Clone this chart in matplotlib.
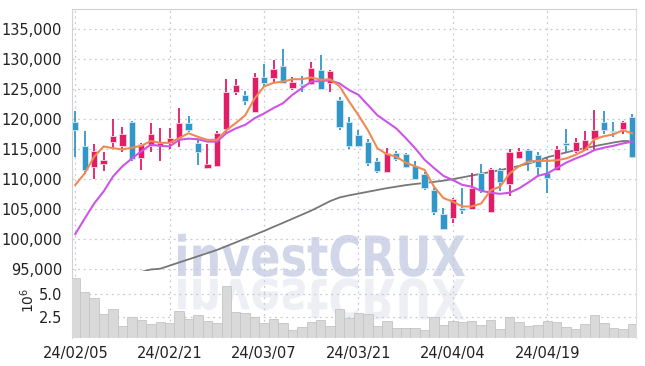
import matplotlib.pyplot as plt
from matplotlib.textpath import TextPath
from matplotlib.patches import PathPatch
from matplotlib.font_manager import FontProperties
from matplotlib.transforms import Affine2D, IdentityTransform
from matplotlib.ticker import FuncFormatter

# trading days shown (yy/mm/dd)
dates = ["24/02/05", "24/02/06", "24/02/07", "24/02/08", "24/02/13", "24/02/14", "24/02/15", "24/02/16",
         "24/02/19", "24/02/20", "24/02/21", "24/02/22", "24/02/23", "24/02/26", "24/02/27", "24/02/28",
         "24/02/29", "24/03/04", "24/03/05", "24/03/06", "24/03/07", "24/03/08", "24/03/11", "24/03/12",
         "24/03/13", "24/03/14", "24/03/15", "24/03/18", "24/03/19", "24/03/20", "24/03/21", "24/03/22",
         "24/03/25", "24/03/26", "24/03/27", "24/03/28", "24/03/29", "24/04/01", "24/04/02", "24/04/03",
         "24/04/04", "24/04/05", "24/04/08", "24/04/09", "24/04/11", "24/04/12", "24/04/15", "24/04/16",
         "24/04/17", "24/04/18", "24/04/19", "24/04/22", "24/04/23", "24/04/24", "24/04/25", "24/04/26",
         "24/04/29", "24/04/30", "24/05/02", "24/05/03"]
tick_dates = ["24/02/05", "24/02/21", "24/03/07", "24/03/21", "24/04/04", "24/04/19"]

opens = [119600, 115600, 112000, 112600, 116300, 115500, 119500, 113500, 115500, 115500,
         116100, 116900, 119400, 116000, 111900, 112300, 118400, 124500, 124100, 121300,
         127000, 126900, 128900, 125200, 125900, 125900, 128300, 126100, 123300, 119500,
         117400, 116300, 113100, 111200, 114400, 114300, 112300, 110900, 108300, 104300,
         103500, 105200, 105000, 111100, 104500, 111600, 109200, 113500, 114900, 114000,
         111100, 111600, 116000, 114800, 114900, 116700, 119600, 118100, 118400, 120400]
closes = [118300, 111500, 114800, 113300, 117300, 117500, 113400, 115900, 117500, 116000,
          116900, 119400, 118300, 114500, 112500, 117700, 124500, 125800, 123000, 127000,
          126100, 128400, 126100, 126200, 125800, 128500, 125000, 128100, 118800, 115600,
          115600, 112800, 111400, 114400, 113400, 112000, 110100, 108600, 104600, 101700,
          106700, 104900, 108600, 108000, 111800, 109600, 114600, 114800, 112900, 112100,
          110300, 115000, 115800, 116300, 116600, 118300, 118300, 118000, 119600, 113800]
highs = [121400, 118100, 115900, 114600, 120000, 118800, 119800, 116000, 119400, 118600,
         118500, 121900, 120600, 116600, 115900, 118000, 126800, 126800, 124800, 127800,
         129200, 129900, 131700, 127000, 127300, 129600, 130800, 128200, 123700, 120400,
         118300, 116800, 113500, 115300, 114800, 114400, 113100, 111300, 108500, 105200,
         106900, 108500, 111100, 112600, 111900, 111900, 115000, 115200, 115000, 114500,
         113600, 115500, 118400, 116900, 118000, 121500, 121400, 119500, 119700, 120900]
lows = [113700, 110900, 110000, 111400, 115000, 114600, 113000, 111600, 114600, 113000,
        115000, 115400, 117900, 112400, 111800, 112000, 117700, 124000, 122400, 121200,
        125600, 126300, 126000, 124900, 124500, 125700, 125000, 124600, 118200, 115000,
        115400, 112200, 111000, 111200, 113100, 111900, 110000, 108200, 104100, 101600,
        102700, 104200, 105000, 107700, 104400, 108000, 107200, 113400, 111400, 110700,
        107700, 111500, 114600, 114400, 114700, 114700, 117500, 117100, 117600, 113500]
ma_short = [109100, 111000, 113800, 115500, 115200, 115000, 115300, 115600, 116400, 116100,
            116100, 116900, 117700, 117100, 116600, 116600, 118200, 119400, 120700, 123500,
            125500, 126100, 126300, 126700, 126700, 127000, 126600, 126700, 125500, 123000,
            120700, 118200, 115200, 114200, 113800, 112800, 112200, 111600, 108800, 106900,
            106300, 105500, 105500, 106000, 108200, 108800, 111000, 112200, 113000, 113100,
            113100, 113200, 113500, 114100, 114900, 116700, 117200, 117500, 118200, 117700]
ma_mid = [100900, 103500, 106000, 108000, 110500, 112200, 113500, 114700, 115800, 115600,
          115500, 116600, 116800, 116700, 116300, 116300, 117700, 118500, 119100, 120200,
          121000, 121900, 122700, 124100, 125200, 126300, 126400, 126500, 126000, 124900,
          124100, 122400, 120700, 119600, 118500, 116900, 115200, 113300, 111900, 110600,
          109900, 109100, 108800, 108100, 107800, 107600, 107800, 108500, 109500, 110600,
          111000, 111900, 112800, 113500, 114100, 114900, 115300, 115600, 116000, 116300]
ma_long = [None, None, None, None, None, None, None, 94600, 95000, 95130,
           95650, 96170, 96690, 97210, 97730, 98250, 98880, 99510, 100150, 100780,
           101420, 102100, 102770, 103450, 104130, 104810, 105600, 106400, 107000, 107350,
           107650, 107950, 108250, 108550, 108800, 109050, 109250, 109400, 109600, 109800,
           110050, 110350, 110650, 110950, 111250, 111550, 111900, 112250, 112650, 113100,
           113700, 114100, 114500, 114900, 115200, 115550, 115850, 116150, 116400, 116400]
volumes = [6.74, 5.22, 4.57, 2.83, 3.37, 1.55, 2.50, 2.21, 1.77, 1.99,
           1.85, 3.18, 2.32, 2.72, 2.10, 1.91, 5.90, 3.08, 2.93, 2.50,
           1.91, 2.28, 1.85, 1.12, 1.41, 1.96, 2.17, 1.55, 3.37, 2.39,
           2.93, 2.83, 1.55, 2.07, 1.30, 1.30, 1.30, 1.09, 2.50, 1.66,
           2.07, 1.99, 2.07, 1.66, 2.21, 1.23, 2.50, 1.99, 1.55, 1.66,
           2.07, 1.99, 1.41, 1.23, 1.74, 2.75, 1.88, 1.37, 1.23, 1.77]

up_col = "#e21d66"
down_col = "#3197c8"
grid_col = "#c5c9d8"
txt_col = "#222222"

plt.rcParams['font.family'] = ['Liberation Sans Narrow', 'DejaVu Sans']

fig = plt.figure(figsize=(6.45, 3.66), dpi=100)
ax = fig.add_axes([0.1116, 0.2596, 0.8745, 0.7158])
axv = fig.add_axes([0.1116, 0.0765, 0.8745, 0.180], sharex=ax)
for a in (ax, axv):
    a.set_facecolor("none")
    a.tick_params(length=0, labelsize=10.5, labelcolor=txt_col)
    a.grid(True, color=grid_col, linestyle=(0, (1.5, 3)), linewidth=0.9)
    a.set_axisbelow(True)
    for s in ("top", "bottom"):
        a.spines[s].set_visible(False)
    a.spines["left"].set_color("#d0d0d8")
    a.spines["right"].set_color("#dcdcdc")
ax.spines["top"].set_visible(True)
ax.spines["top"].set_color("#d0d0d0")

x = list(range(len(dates)))

# candles
for i in x:
    o, c, h, l = opens[i], closes[i], highs[i], lows[i]
    col = up_col if c >= o else down_col
    ax.vlines(i, l, h, color=col, linewidth=1.3, zorder=3)
    body = max(abs(c - o), 180)
    ax.bar(i, body, bottom=min(o, c) - (body - abs(c - o)) / 2, width=0.66, color=col,
           edgecolor="#f3d6e4" if col == up_col else "#d3e6f1", linewidth=0.6, zorder=4)

# moving averages
ax.plot(x, ma_long, color="#777777", linewidth=1.3, zorder=2)
ax.plot(x, ma_mid, color="#cc55e6", linewidth=1.5, zorder=5)
ax.plot(x, ma_short, color="#ef8a52", linewidth=1.5, zorder=6)

ax.set_ylim(94750, 138400)
ax.set_xlim(-0.35, 59.4)
ax.set_yticks(range(95000, 135001, 5000))
ax.yaxis.set_major_formatter(FuncFormatter(lambda v, p: f"{int(v):,}"))
ax.tick_params(axis="y", pad=7)
ticks = [dates.index(d) for d in tick_dates]
ax.set_xticks(ticks)
plt.setp(ax.get_xticklabels(), visible=False)

# volume
axv.bar(x, volumes, width=1.0, color="#d9d9d9", edgecolor="#c4c4c4", linewidth=0.6, zorder=3)
axv.set_ylim(0.25, 7.42)
axv.set_yticks([2.5, 5.0])
axv.set_yticklabels(["2.5", "5.0"])
axv.tick_params(axis="y", pad=7)
axv.set_xticks(ticks)
axv.set_xticklabels(tick_dates)
axv.tick_params(axis="x", pad=6)
fig.text(28 / 645, 1 - 300 / 366, r"$\mathregular{10^6}$", rotation=90, fontsize=10,
         color=txt_col, ha="center", va="center")

# watermark with reflection
fp = FontProperties(family="DejaVu Sans", weight="bold")
tp = TextPath((0, 0), "investCRUX", size=40, prop=fp)
ext = tp.get_extents()
cap = TextPath((0, 0), "C", size=40, prop=fp).get_extents().height
sx = 287 / ext.width
sy = 42 / cap
x0 = 178 - ext.x0 * sx
base = 366 - 276
wm = PathPatch(tp, facecolor="#ccd3e6", edgecolor="none", alpha=0.9, zorder=-1,
               transform=Affine2D().scale(sx, sy).translate(x0, base) + IdentityTransform())
wr = PathPatch(tp, facecolor="#e6e9f2", edgecolor="none", alpha=0.7, zorder=-1,
               transform=Affine2D().scale(sx, -sy).translate(x0, base - 3) + IdentityTransform())
fig.add_artist(wm)
fig.add_artist(wr)

fig.savefig("out.png", dpi=100, facecolor="white")
